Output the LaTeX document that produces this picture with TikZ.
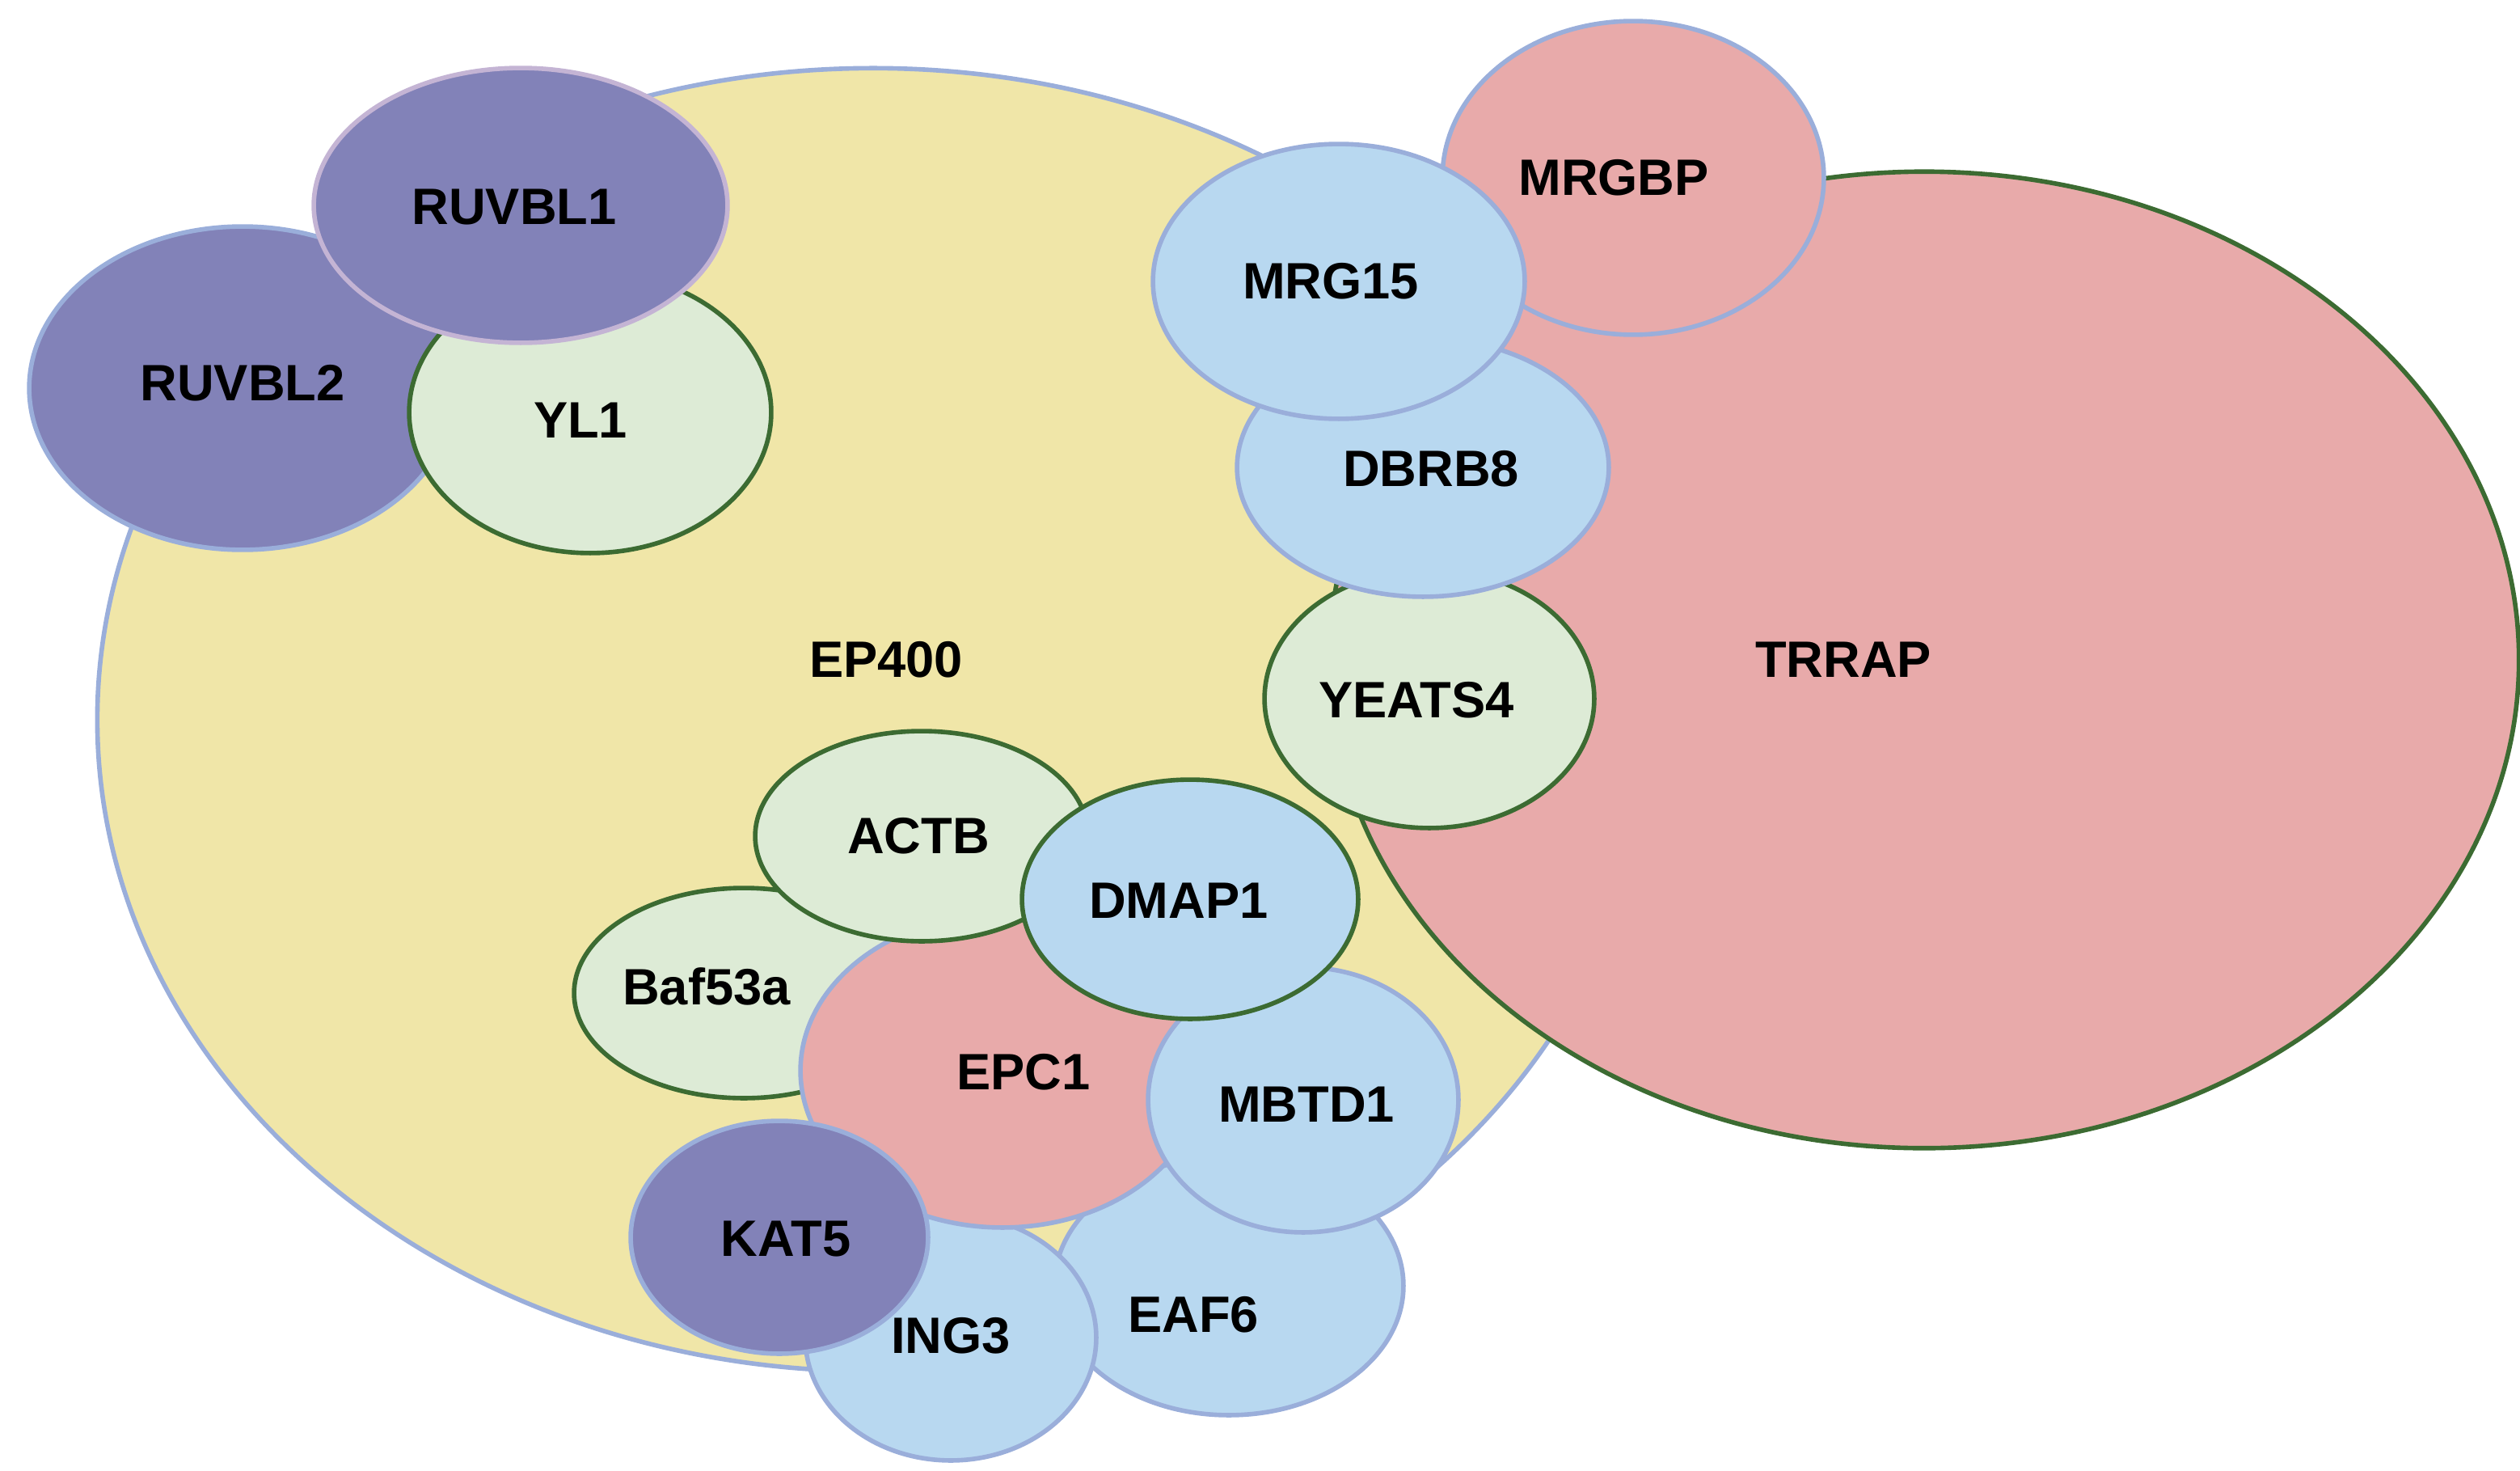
\documentclass[tikz,border=0pt]{standalone}
\usepackage{fontspec}
\setmainfont{Liberation Sans}
\usetikzlibrary{shapes.geometric}
\definecolor{yel}{HTML}{F0E6A8}
\definecolor{pink}{HTML}{E8AAAA}
\definecolor{lblue}{HTML}{B8D8F0}
\definecolor{lgreen}{HTML}{DDEBD6}
\definecolor{purp}{HTML}{8282B8}
\definecolor{bstroke}{HTML}{9AAEDA}
\definecolor{gstroke}{HTML}{3C6B32}
\definecolor{pstroke}{HTML}{C4B4D4}
\tikzset{
 ell/.style={ellipse,inner sep=0pt,line width=1.6pt},
 lab/.style={font=\fontsize{18}{20}\selectfont\bfseries,text=black},
}
\newcommand{\E}[6]{\node[ell,draw=#5,fill=#6,minimum width=#3*0.04cm,minimum height=#4*0.04cm] (#1) at (#2) {};}
\begin{document}
\begin{tikzpicture}[x=0.02cm,y=-0.02cm]
\useasboundingbox (0,0) rectangle (1558.5,909);
\E{ep400}{540,445}{480}{403}{bstroke}{yel}
\E{trrap}{1190,408}{368}{302}{gstroke}{pink}
\E{mrgbp}{1010,110}{118}{97}{bstroke}{pink}
\E{yeats4}{884,432}{102}{80}{gstroke}{lgreen}
\E{dbrb8}{880,289}{115}{80}{bstroke}{lblue}
\E{mrg15}{828,174}{115}{85}{bstroke}{lblue}
\E{ruvbl2}{150,240}{132}{100}{bstroke}{purp}
\E{yl1}{365,255}{112}{87}{gstroke}{lgreen}
\E{ruvbl1}{322,127}{128}{85}{pstroke}{purp}
\E{eaf6}{760,795}{108}{80}{bstroke}{lblue}
\E{ing3}{588,827}{90}{76}{bstroke}{lblue}
\E{baf53a}{460,614}{105}{65}{gstroke}{lgreen}
\E{epc1}{620,662}{125}{97}{bstroke}{pink}
\E{mbtd1}{806,680}{96}{82}{bstroke}{lblue}
\E{actb}{570,517}{103}{65}{gstroke}{lgreen}
\E{dmap1}{736,556}{104}{74}{gstroke}{lblue}
\E{kat5}{482,765}{92}{72}{bstroke}{purp}
\node[lab] (tEP400) at (548,408) {EP400};
\node[lab] (tTRRAP) at (1140,408) {TRRAP};
\node[lab] (tMRGBP) at (998,110) {MRGBP};
\node[lab] (tMRG15) at (823,174) {MRG15};
\node[lab] (tDBRB8) at (885,290) {DBRB8};
\node[lab] (tYEATS4) at (876,433) {YEATS4};
\node[lab] (tRUVBL1) at (318,128) {RUVBL1};
\node[lab] (tRUVBL2) at (150,237) {RUVBL2};
\node[lab] (tYL1) at (359,260) {YL1};
\node[lab] (tACTB) at (568,517) {ACTB};
\node[lab] (tDMAP1) at (729,557) {DMAP1};
\node[lab] (tBaf) at (437,610) {Baf53a};
\node[lab] (tEPC1) at (633,663) {EPC1};
\node[lab] (tMBTD1) at (808,683) {MBTD1};
\node[lab] (tKAT5) at (486,766) {KAT5};
\node[lab] (tING3) at (588,826) {ING3};
\node[lab] (tEAF6) at (738,813) {EAF6};
\end{tikzpicture}
\end{document}
